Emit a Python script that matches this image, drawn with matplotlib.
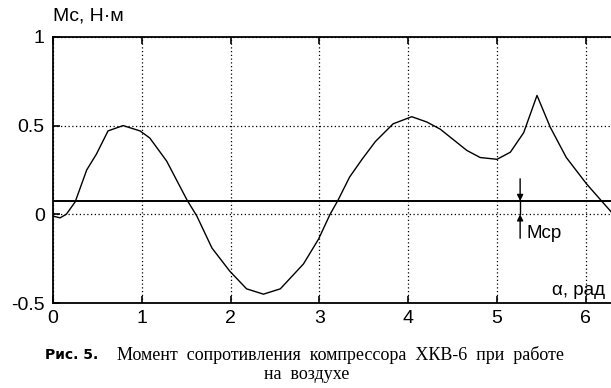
import numpy as np
import matplotlib as mpl
import matplotlib.pyplot as plt

# данные
alpha = [0.0, 0.08, 0.15, 0.25, 0.38, 0.49, 0.62, 0.79, 0.98, 1.09, 1.28, 1.51,
         1.62, 1.79, 1.99, 2.18, 2.37, 2.56, 2.82, 2.99, 3.12, 3.21, 3.34, 3.48,
         3.63, 3.83, 4.04, 4.21, 4.36, 4.51, 4.66, 4.81, 5.0, 5.15, 5.30, 5.45,
         5.60, 5.78, 6.01, 6.283]
mc = [-0.01, -0.02, 0.0, 0.07, 0.25, 0.34, 0.47, 0.50, 0.47, 0.43, 0.30, 0.08,
      -0.01, -0.19, -0.32, -0.42, -0.45, -0.42, -0.28, -0.14, 0.0, 0.08, 0.21, 0.31,
      0.41, 0.51, 0.55, 0.52, 0.48, 0.42, 0.36, 0.32, 0.31, 0.35, 0.46, 0.67,
      0.49, 0.32, 0.17, 0.015]
m_avg = 0.075
arrow_x = 5.26

xticks = [0, 1, 2, 3, 4, 5, 6]
yticks = [-0.5, 0, 0.5, 1]
ytick_labels = ['-0.5', '0', '0.5', '1']

mpl.rcParams['font.family'] = ['Liberation Sans', 'DejaVu Sans']

fig = plt.figure(figsize=(6.11, 3.88), dpi=100)
ax = fig.add_axes([0.0867, 0.219, 0.9133, 0.686])

ax.plot(alpha, mc, color='black', lw=1.0)
ax.axhline(m_avg, color='black', lw=1.4)

ax.set_xlim(0, 2 * np.pi)
ax.set_ylim(-0.5, 1)
ax.set_xticks(xticks)
ax.set_yticks(yticks)
ax.set_yticklabels(ytick_labels)
ax.grid(True, color='black', linestyle=(0, (1, 2)), lw=0.9)
ax.tick_params(direction='in', length=5, width=1.2, labelsize=14,
               top=True, colors='black')
ax.tick_params(axis='x', pad=5)
ax.tick_params(axis='y', pad=6)
ax.spines['right'].set_visible(False)
for s in ['left', 'top', 'bottom']:
    ax.spines[s].set_linewidth(1.3)

# стрелки Mcp
ax.annotate('', xy=(arrow_x, m_avg), xytext=(arrow_x, 0.2),
            arrowprops=dict(arrowstyle='-|>', color='black', lw=1.0,
                            mutation_scale=9, shrinkA=0, shrinkB=0))
ax.annotate('', xy=(arrow_x, 0.0), xytext=(arrow_x, -0.135),
            arrowprops=dict(arrowstyle='-|>', color='black', lw=1.0,
                            mutation_scale=9, shrinkA=0, shrinkB=0))
ax.plot([arrow_x, arrow_x], [0.0, m_avg], color='black', lw=1.0)
ax.text(5.33, -0.11, 'Mcp', fontsize=13.5, va='center', ha='left')

ax.text(6.22, -0.43, 'α, рад', fontsize=13.5, va='center', ha='right')
ax.text(0.0, 1.12, 'Mc, Н·м', fontsize=14, va='center', ha='left')

# подпись рисунка
fig.text(98 / 611, 0.085, 'Рис. 5.', fontsize=10, fontweight='bold',
         family='DejaVu Sans', va='center', ha='right')
fig.text(117 / 611, 0.085,
         'Момент  сопротивления  компрессора  ХКВ-6  при  работе',
         fontsize=13, family='Liberation Serif', va='center', ha='left')
fig.text(307 / 611, 0.036, 'на  воздухе', fontsize=13,
         family='Liberation Serif', va='center', ha='center')

fig.savefig('out.png', dpi=100)
